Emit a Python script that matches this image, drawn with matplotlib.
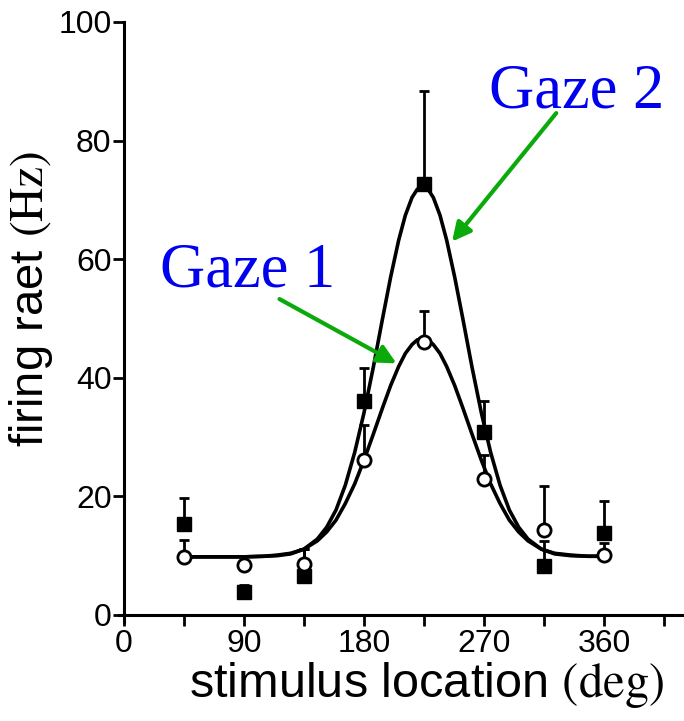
import numpy as np
import matplotlib
matplotlib.use('Agg')
import matplotlib.pyplot as plt

plt.rcParams['font.family'] = ['Liberation Sans', 'DejaVu Sans']
plt.rcParams['mathtext.fontset'] = 'stix'

# measured points (deg, Hz) and upper error bars
locs = [45, 90, 135, 180, 225, 270, 315, 360]
gaze1 = [9.8, 8.4, 8.6, 26.1, 46.0, 23.0, 14.4, 10.1]
gaze1_err = [2.8, 1.5, 2.5, 5.9, 5.3, 4.0, 7.3, 2.0]
gaze2 = [15.3, 3.9, 6.6, 36.1, 72.6, 30.8, 8.3, 13.8]
gaze2_err = [4.4, 1.2, 4.5, 5.5, 15.8, 5.2, 4.2, 5.5]

# fitted tuning curves
fit_x = [45, 60, 75, 90, 105, 115, 125, 135, 145, 152, 159, 166, 173, 180, 187, 194,
         200, 206, 211, 216, 220, 224, 228, 232, 237, 242, 248, 254, 261, 268, 275,
         282, 289, 296, 303, 313, 323, 335, 348, 360]
fit1 = [9.8, 9.8, 9.8, 9.8, 9.9, 10.1, 10.4, 11.1, 12.5, 14.0, 16.0, 18.8, 22.1, 26.1, 30.5, 35.0,
        38.7, 41.9, 44.1, 45.6, 46.4, 46.6, 46.4, 45.6, 44.1, 41.9, 38.7, 35.0, 30.5, 26.1, 22.1,
        18.8, 16.0, 14.0, 12.5, 11.1, 10.4, 10.1, 9.9, 9.9]
fit2 = [9.8, 9.8, 9.8, 9.8, 9.9, 10.0, 10.3, 11.1, 12.8, 14.8, 17.7, 21.9, 27.4, 34.1, 41.8, 50.1,
        57.0, 63.2, 67.4, 70.4, 71.8, 72.3, 71.8, 70.4, 67.4, 63.2, 57.0, 50.1, 41.8, 34.1, 27.4,
        21.9, 17.7, 14.8, 12.8, 11.1, 10.3, 10.0, 9.9, 9.9]

fig = plt.figure(figsize=(6.84, 7.21), dpi=100)
ax = fig.add_axes([0.1735, 0.1372, 0.8265, 0.8323])

lw = 2.6
ax.plot(fit_x, fit2, color='black', lw=lw, zorder=2, solid_joinstyle='round')
ax.plot(fit_x, fit1, color='black', lw=lw, zorder=2, solid_joinstyle='round')

e2 = [np.zeros(len(gaze2_err)), gaze2_err]
e1 = [np.zeros(len(gaze1_err)), gaze1_err]
ax.errorbar(locs, gaze2, yerr=e2, fmt='none', ecolor='black', elinewidth=2,
            capsize=3.5, capthick=2, zorder=1)
ax.errorbar(locs, gaze1, yerr=e1, fmt='none', ecolor='black', elinewidth=2,
            capsize=3.5, capthick=2, zorder=1)
ax.plot(locs, gaze2, 's', color='black', ms=9.5, zorder=3)
ax.plot(locs, gaze1, 'o', mfc='white', mec='black', mew=2, ms=9.5, zorder=4)

ax.set_xlim(-4, 420)
ax.set_ylim(-1.2, 100)
ax.spines['left'].set_position(('data', 0))
ax.spines['bottom'].set_position(('data', 0))
ax.spines['top'].set_visible(False)
ax.spines['right'].set_visible(False)
for s in ['left', 'bottom']:
    ax.spines[s].set_linewidth(2.2)

ax.set_xticks(np.arange(0, 406, 45))
ax.set_xticklabels(['0', '', '90', '', '180', '', '270', '', '360', ''])
ax.set_yticks([0, 20, 40, 60, 80, 100])
ax.tick_params(axis='both', direction='out', length=8, width=2, labelsize=23, pad=2)
ax.tick_params(axis='y', pad=1)

ax.set_xlabel(r'stimulus location $\mathrm{(deg)}$', fontsize=35, labelpad=1)
ax.xaxis.label.set_x(0.544)
ax.set_ylabel(r'firing raet $\mathrm{(Hz)}$', fontsize=34)
ax.yaxis.set_label_coords(-0.113, 0.5385)

green = '#0aaa0a'
ax.annotate('', xy=(244.7, 62.6), xytext=(325.5, 85.0),
            arrowprops=dict(arrowstyle='-|>', color=green, lw=3, mutation_scale=28))
ax.annotate('', xy=(206.2, 42.2), xytext=(114.8, 53.5),
            arrowprops=dict(arrowstyle='-|>', color=green, lw=3, mutation_scale=28))
ax.text(274, 85.6, 'Gaze 2', color='#0000ee', fontsize=45, family='Liberation Serif',
        va='baseline', ha='left')
ax.text(27, 55.4, 'Gaze 1', color='#0000ee', fontsize=45, family='Liberation Serif',
        va='baseline', ha='left')

fig.savefig('out.png', dpi=100)
